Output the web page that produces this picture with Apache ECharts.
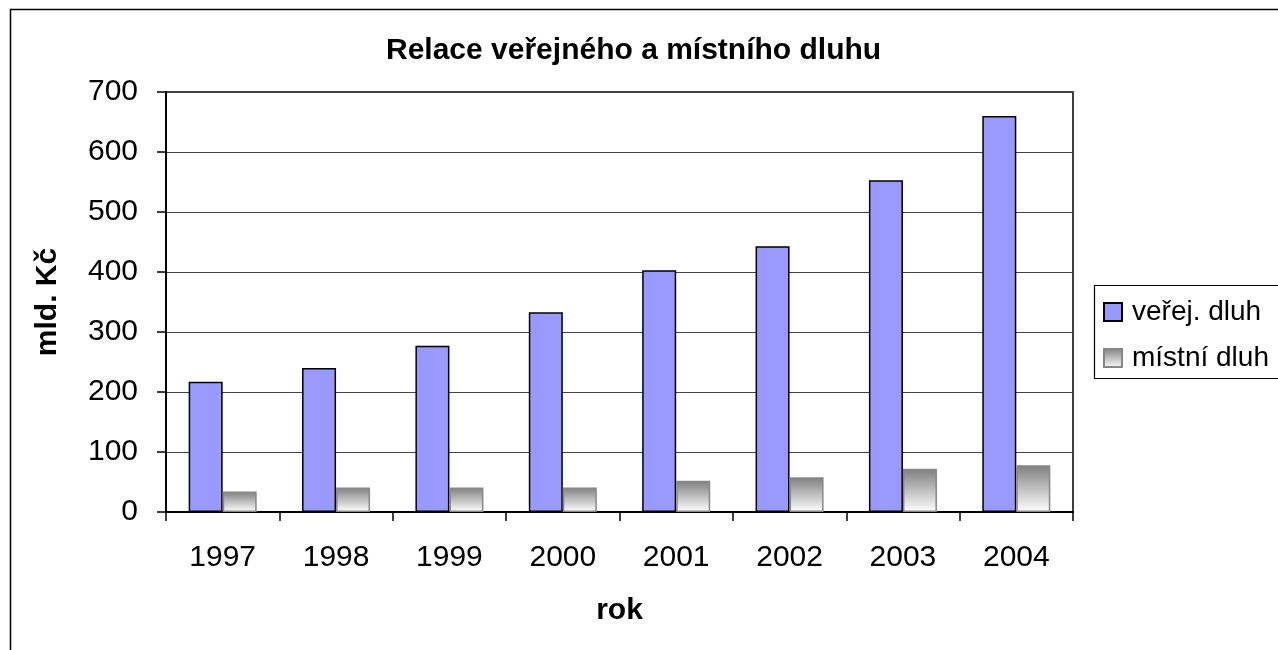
<!DOCTYPE html>
<html>
<head>
<meta charset="utf-8">
<title>Relace veřejného a místního dluhu</title>
<script src="https://cdn.jsdelivr.net/npm/echarts@6/dist/echarts.min.js"></script>
<style>
    html, body { margin: 0; padding: 0; background: #ffffff; }
    #chart { width: 1278px; height: 650px; }
</style>
</head>
<body>
<div id="chart"></div>
<script>
  // data (mld. Kč)
  var years = ['1997', '1998', '1999', '2000', '2001', '2002', '2003', '2004'];
  var verejDluh = [217, 240, 277, 333, 403, 443, 553, 660];
  var mistniDluh = [34, 41, 41, 41, 52, 58, 72, 78];
  var yTicks = [0, 100, 200, 300, 400, 500, 600, 700];

  var font = "'Liberation Sans', Arial, sans-serif";
  var chart = echarts.init(document.getElementById('chart'));

  var option = {
    animation: false,
    backgroundColor: '#ffffff',
    textStyle: { fontFamily: font, color: '#000' },
    title: {
      text: 'Relace veřejného a místního dluhu',
      left: 386,
      top: 36,
      padding: 0,
      textStyle: { fontFamily: font, fontSize: 30, fontWeight: 'bold', color: '#000' }
    },
    // outer frame + legend box, both run past the right / bottom edge
    graphic: [
      {
        type: 'rect',
        shape: { x: 10.5, y: 9.5, width: 2000, height: 2000 },
        style: { fill: 'none', stroke: '#000', lineWidth: 1.5 },
        silent: true
      },
      {
        type: 'rect',
        shape: { x: 1094.5, y: 285.5, width: 400, height: 93 },
        style: { fill: '#fff', stroke: '#000', lineWidth: 1.2 },
        silent: true,
        z: 0
      }
    ],
    legend: {
      orient: 'vertical',
      left: 1103,
      top: 297,
      padding: 0,
      itemWidth: 18,
      itemHeight: 18,
      itemGap: 16,
      icon: 'rect',
      z: 5,
      textStyle: { fontFamily: font, fontSize: 28, lineHeight: 30, color: '#000', padding: [0, 0, 0, 5] },
      data: ['veřej. dluh', 'místní dluh']
    },
    grid: {
      left: 166,
      top: 92,
      width: 907,
      height: 420,
      show: true,
      borderColor: '#000',
      borderWidth: 1.5,
      containLabel: false
    },
    xAxis: {
      type: 'category',
      data: years,
      name: 'rok',
      nameLocation: 'middle',
      nameGap: 84,
      nameTextStyle: { fontFamily: font, fontSize: 30, fontWeight: 'bold', color: '#000' },
      axisLine: { show: true, lineStyle: { color: '#000', width: 2 } },
      axisTick: { show: true, length: 9, lineStyle: { color: '#000', width: 1.5 } },
      axisLabel: { fontFamily: font, fontSize: 30, color: '#000', margin: 31 },
      splitLine: { show: false }
    },
    yAxis: {
      type: 'value',
      min: 0,
      max: 700,
      interval: 100,
      name: 'mld. Kč',
      nameLocation: 'middle',
      nameGap: 103,
      nameRotate: 90,
      nameTextStyle: { fontFamily: font, fontSize: 30, fontWeight: 'bold', color: '#000' },
      axisLine: { show: true, lineStyle: { color: '#000', width: 2 } },
      axisTick: { show: true, length: 9, lineStyle: { color: '#000', width: 1.5 } },
      axisLabel: {
        fontFamily: font, fontSize: 30, color: '#000', margin: 28,
        formatter: function (v) { return yTicks.indexOf(v) >= 0 ? String(v) : ''; }
      },
      splitLine: { show: true, lineStyle: { color: '#444', width: 1.2 } }
    },
    series: [
      {
        name: 'veřej. dluh',
        type: 'bar',
        data: verejDluh,
        barGap: '0%',
        barCategoryGap: '40%',
        itemStyle: { color: '#9999ff', borderColor: '#000', borderWidth: 1.5 }
      },
      {
        name: 'místní dluh',
        type: 'bar',
        data: mistniDluh,
        itemStyle: {
          color: new echarts.graphic.LinearGradient(0, 0, 0, 1, [
            { offset: 0, color: '#7f7f7f' },
            { offset: 1, color: '#ffffff' }
          ]),
          borderColor: '#888',
          borderWidth: 1.5
        }
      }
    ]
  };

  chart.setOption(option);
</script>
</body>
</html>
